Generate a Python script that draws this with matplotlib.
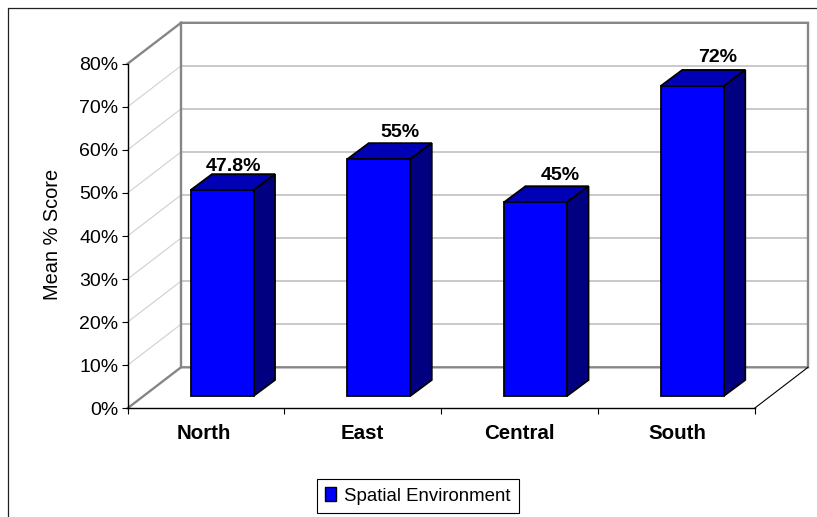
import matplotlib
matplotlib.use("Agg")
import matplotlib.pyplot as plt
from matplotlib.lines import Line2D
from matplotlib.patches import Patch, Polygon

plt.rcParams['font.family'] = ['Liberation Sans', 'DejaVu Sans']

# data
regions = ['North', 'East', 'Central', 'South']
scores = [47.8, 55, 45, 72]
score_labels = ['47.8%', '55%', '45%', '72%']
y_ticks = [0, 10, 20, 30, 40, 50, 60, 70, 80]
series_name = 'Spatial Environment'

W, H = 817, 517
fig = plt.figure(figsize=(W / 100, H / 100), dpi=100)

# plot box of the front plane, in pixels
X0, X1, Y0, Y1 = 127.5, 754.5, 408.3, 63.8
ax = fig.add_axes([X0 / W, 1 - Y0 / H, (X1 - X0) / W, (Y0 - Y1) / H])
ax.set_xlim(0, 4)
ax.set_ylim(0, 80)
ax.patch.set_alpha(0)

# depth of the 3d box, in data units
px_x = 4 / (X1 - X0)
px_y = 80 / (Y0 - Y1)
wall_dx = 53.5 * px_x
wall_dy = 41 * px_y
bar_dx = 21.5 * px_x
bar_dy = 16 * px_y
bar_w = 63 * px_x
bar_base = 12.3 * px_y
bar_shift = 0.103

# walls
for v in y_ticks[1:-1]:
    ax.plot([0, wall_dx], [v, v + wall_dy], color='#d0d0d0', lw=0.8, clip_on=False, zorder=1)
    ax.plot([wall_dx, 4 + wall_dx], [v + wall_dy] * 2, color='#c0c0c0', lw=1.2, clip_on=False, zorder=1)
wall = dict(color='#868686', lw=1.7, clip_on=False, zorder=1.5, solid_joinstyle='miter')
ax.plot([0, wall_dx, 4 + wall_dx, 4 + wall_dx, wall_dx, wall_dx],
        [80, 80 + wall_dy, 80 + wall_dy, wall_dy, wall_dy, 80 + wall_dy], **wall)
ax.plot([0, wall_dx], [0, wall_dy], **wall)
ax.plot([4, 4 + wall_dx], [0, wall_dy], color='black', lw=0.8, clip_on=False, zorder=1.5)

# bars, standing on the raised floor
xs = [i + 0.5 + bar_shift for i in range(len(regions))]
ax.bar(xs, scores, width=bar_w, bottom=bar_base, color='#0000ff',
       edgecolor='black', lw=1.3, zorder=3, clip_on=False)
edge = dict(edgecolor='black', lw=1.3, zorder=2.5, clip_on=False, joinstyle='miter')
for x, s in zip(xs, scores):
    l, r = x - bar_w / 2, x + bar_w / 2
    top = s + bar_base
    ax.add_patch(Polygon([(l, top), (l + bar_dx, top + bar_dy), (r + bar_dx, top + bar_dy), (r, top)],
                         facecolor='#0000b4', **edge))
    ax.add_patch(Polygon([(r, bar_base), (r + bar_dx, bar_base + bar_dy), (r + bar_dx, top + bar_dy), (r, top)],
                         facecolor='#000080', **edge))

# value labels, moved by hand like in the original
label_dx = [11.5, 21.5, 25, 25]
label_dy = [3, 6, 6, 8]
for x, s, txt, dx, dy in zip(xs, scores, score_labels, label_dx, label_dy):
    ax.annotate(txt, (x, s + bar_base + bar_dy), xytext=(dx, dy), textcoords='offset pixels', ha='center',
                va='baseline', fontsize=14, fontweight='bold', color='black', zorder=5, annotation_clip=False)

# axes
for side in ['top', 'right']:
    ax.spines[side].set_visible(False)
for side in ['left', 'bottom']:
    ax.spines[side].set_linewidth(1.0)
    ax.spines[side].set_zorder(2)
ax.set_yticks(y_ticks)
ax.set_yticklabels([f'{v}%' for v in y_ticks], fontsize=14)
ax.tick_params(axis='y', length=4.5, width=0.8, pad=2)
ax.set_xticks(range(5))
ax.set_xticklabels([])
ax.tick_params(axis='x', length=4.5, width=0.8)
name_dx = [-2, 0, 0, 1]
for i, name in enumerate(regions):
    ax.annotate(name, (i + 0.5, 0), xytext=(name_dx[i], -31), textcoords='offset pixels', ha='center', va='baseline',
                fontsize=14.8, fontweight='bold', annotation_clip=False)
fig.text(52 / W, 1 - 234 / H, 'Mean % Score', rotation=90, ha='center', va='center', fontsize=14.4)

# legend
leg = fig.legend(handles=[Patch(facecolor='#0000ff', edgecolor='black', lw=1.0, label=series_name)],
                 loc='center', bbox_to_anchor=(418 / W, 1 - 496 / H), fontsize=13.4, fancybox=False,
                 framealpha=1, edgecolor='black', handlelength=0.6, handleheight=0.75, handletextpad=0.43,
                 borderpad=0.45, borderaxespad=0)
leg.get_frame().set_linewidth(0.8)

# outer chart border, only top and left are in the picture
fig.add_artist(Line2D([8 / W, 8 / W, 816 / W], [0, 1 - 7.5 / H, 1 - 7.5 / H], color='#202020', lw=0.9))

fig.savefig('out.png', dpi=100)
